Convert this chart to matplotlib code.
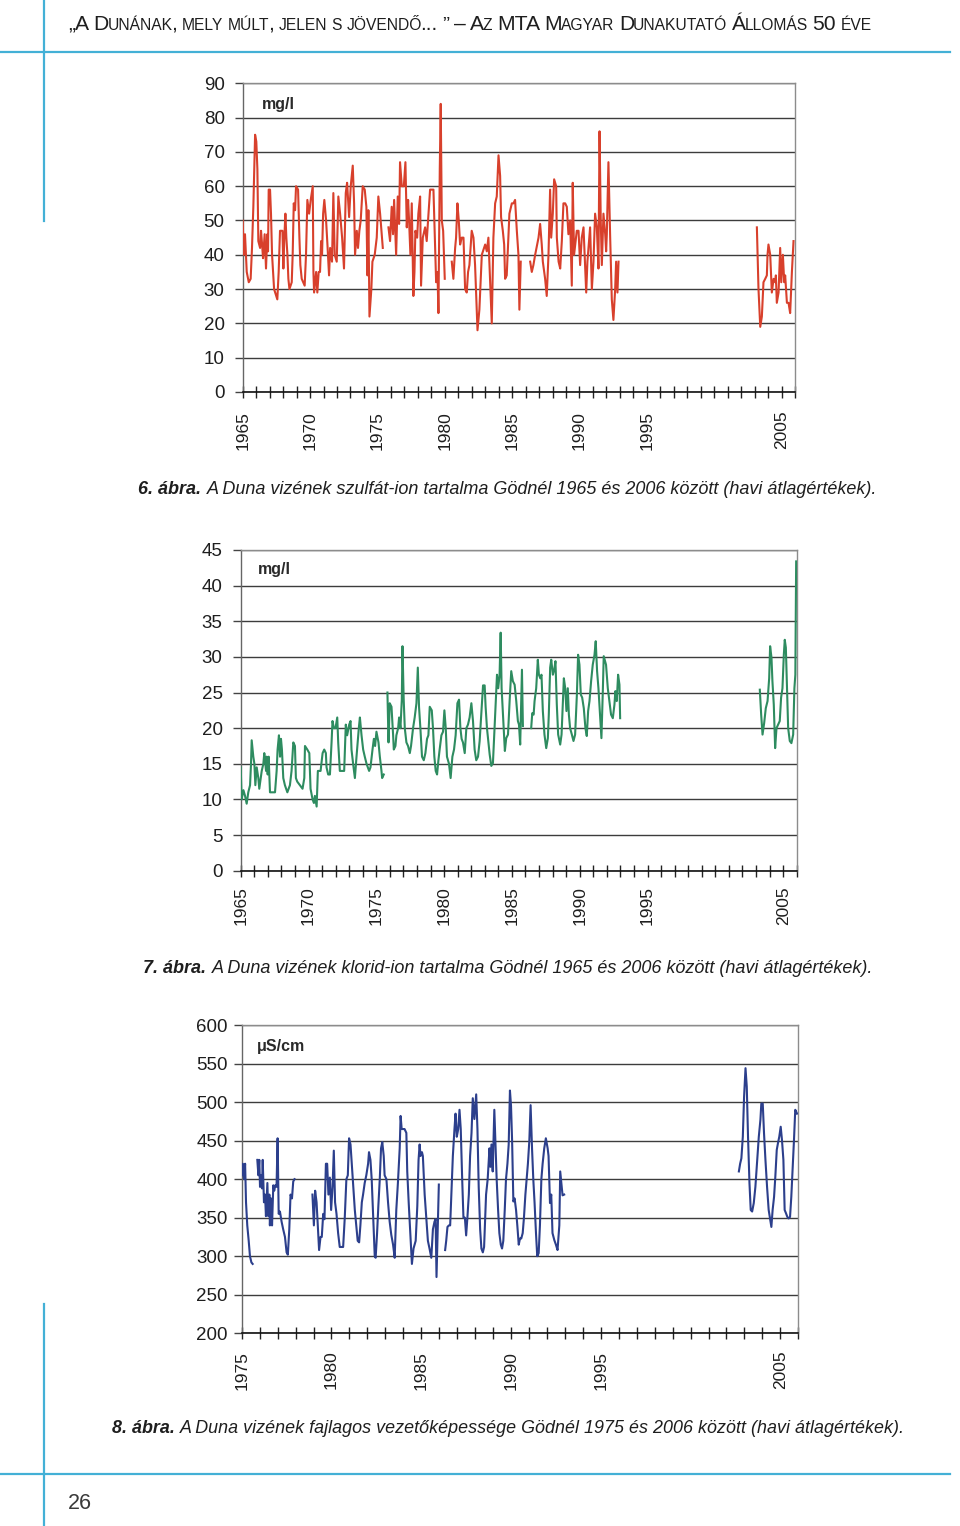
import matplotlib
matplotlib.use("Agg")
import matplotlib.pyplot as plt
import numpy as np
from matplotlib.lines import Line2D

W, H, DPI = 960, 1526, 100
nan = np.nan

# 6. abra - sulfate, mg/l (monthly means, NaN = missing period)
SULFATE_YEAR = [
    1965.00, 1965.07, 1965.17, 1965.30, 1965.45, 1965.59, 1965.69, 1965.79, 1965.92, 1966.01,
    1966.09, 1966.16, 1966.29, 1966.36, 1966.44, 1966.51, 1966.63, 1966.73, 1966.83, 1966.88,
    1966.93, 1967.03, 1967.10, 1967.18, 1967.33, 1967.57, 1967.67, 1967.77, 1967.95, 1968.02,
    1968.09, 1968.17, 1968.24, 1968.32, 1968.39, 1968.47, 1968.64, 1968.71, 1968.79, 1968.89,
    1968.96, 1969.11, 1969.21, 1969.28, 1969.38, 1969.60, 1969.70, 1969.80, 1969.93, 1970.05,
    1970.20, 1970.25, 1970.30, 1970.45, 1970.54, 1970.64, 1970.74, 1970.82, 1970.89, 1970.97,
    1971.06, 1971.19, 1971.29, 1971.41, 1971.49, 1971.63, 1971.73, 1971.83, 1971.98, 1972.10,
    1972.23, 1972.38, 1972.52, 1972.65, 1972.75, 1972.90, 1973.02, 1973.17, 1973.27, 1973.34,
    1973.47, 1973.56, 1973.66, 1973.76, 1973.91, 1974.06, 1974.18, 1974.26, 1974.33, 1974.41,
    1974.55, 1974.63, 1974.80, 1974.95, 1975.07, 1975.20, 1975.40,
    1975.60,
    1975.82, 1975.94, 1976.06, 1976.16, 1976.24, 1976.39, 1976.51, 1976.61, 1976.68, 1976.81,
    1976.96, 1977.08, 1977.18, 1977.28, 1977.35, 1977.45, 1977.55, 1977.67, 1977.75, 1977.82,
    1977.95, 1978.04, 1978.17, 1978.24, 1978.37, 1978.54, 1978.66, 1978.79, 1978.91, 1979.16,
    1979.26, 1979.36, 1979.46, 1979.53, 1979.63, 1979.70, 1979.78, 1979.88, 1980.00,
    1980.25,
    1980.52, 1980.64, 1980.77, 1980.84, 1980.94, 1981.04, 1981.14, 1981.26, 1981.39, 1981.51,
    1981.63, 1981.73, 1981.83, 1982.00, 1982.13, 1982.25, 1982.43, 1982.57, 1982.75, 1983.00,
    1983.12, 1983.24, 1983.37, 1983.49, 1983.61, 1983.74, 1983.86, 1983.99, 1984.11, 1984.18,
    1984.31, 1984.41, 1984.48, 1984.60, 1984.80, 1984.98, 1985.10, 1985.22, 1985.35, 1985.47,
    1985.54, 1985.64,
    1986.00,
    1986.34, 1986.46, 1986.58, 1986.71, 1986.96, 1987.08, 1987.20, 1987.28, 1987.45, 1987.57,
    1987.70, 1987.82, 1987.90, 1988.02, 1988.12, 1988.27, 1988.32, 1988.45, 1988.57, 1988.69,
    1988.81, 1988.94, 1989.06, 1989.18, 1989.31, 1989.43, 1989.50, 1989.60, 1989.80, 1989.93,
    1990.05, 1990.17, 1990.30, 1990.50, 1990.59, 1990.79, 1990.92, 1991.04, 1991.16, 1991.29,
    1991.41, 1991.49, 1991.58, 1991.66, 1991.78, 1991.91, 1991.98, 1992.03, 1992.15, 1992.28,
    1992.40, 1992.52, 1992.65, 1992.72, 1992.82, 1992.90,
    1998.00,
    2003.17, 2003.29, 2003.42, 2003.54, 2003.66, 2003.79, 2003.91, 2003.96, 2004.03, 2004.16,
    2004.28, 2004.41, 2004.53, 2004.58, 2004.65, 2004.78, 2004.90, 2004.98, 2005.10, 2005.20,
    2005.27, 2005.40, 2005.52, 2005.64, 2005.77, 2005.89,
]
SULFATE_MGL = [
    50, 40, 46, 35, 32, 33, 42, 54, 75, 73, 65, 44, 42, 47, 43, 39, 46, 36, 46, 41,
    59, 59, 52, 40, 30, 27, 35, 47, 47, 36, 45, 52, 45, 40, 33, 30, 32, 40, 55, 53,
    60, 59, 45, 37, 33, 31, 40, 56, 52, 56, 60, 35, 29, 35, 29, 35, 35, 44, 40, 52,
    56, 50, 43, 34, 42, 38, 58, 40, 38, 57, 52, 45, 36, 58, 61, 51, 60, 66, 55, 40,
    47, 42, 47, 50, 60, 59, 54, 34, 53, 22, 30, 38, 40, 45, 57, 52, 42,
    nan,
    48, 44, 54, 46, 56, 40, 57, 49, 67, 60, 60, 67, 48, 56, 50, 40, 55, 28, 35, 47,
    45, 52, 57, 31, 45, 48, 44, 52, 59, 59, 45, 32, 35, 23, 65, 84, 50, 47, 33,
    nan,
    38, 33, 42, 45, 55, 50, 43, 45, 45, 30, 29, 35, 37, 47, 45, 37, 18, 24, 40, 43,
    41, 45, 32, 20, 45, 55, 57, 69, 63, 51, 47, 43, 33, 34, 52, 55, 55, 56, 47, 40,
    24, 38,
    nan,
    38, 35, 37, 40, 45, 49, 43, 38, 33, 28, 40, 59, 45, 52, 62, 60, 45, 38, 36, 44,
    55, 55, 54, 46, 50, 31, 61, 40, 47, 47, 37, 45, 48, 29, 38, 48, 30, 38, 52, 48,
    36, 76, 50, 37, 52, 46, 41, 46, 67, 45, 27, 21, 30, 38, 29, 38,
    nan,
    48, 30, 19, 22, 32, 33, 34, 40, 43, 40, 29, 33, 32, 34, 26, 29, 42, 32, 40, 32,
    34, 26, 26, 23, 35, 44,
]

# 7. abra - chloride, mg/l
CHLORIDE_YEAR = [
    1965.00, 1965.07, 1965.20, 1965.32, 1965.44, 1965.56, 1965.69, 1965.76, 1965.81, 1965.93,
    1966.01, 1966.08, 1966.18, 1966.30, 1966.37,
    1966.55, 1966.67, 1966.74, 1966.87, 1966.91, 1966.99, 1967.06, 1967.16, 1967.28, 1967.53,
    1967.65, 1967.72, 1967.82, 1967.90, 1967.97, 1968.04, 1968.14, 1968.26, 1968.44, 1968.63,
    1968.75, 1968.88, 1969.00, 1969.07, 1969.17, 1969.37, 1969.56, 1969.69, 1969.74, 1969.91,
    1970.06, 1970.15, 1970.30, 1970.40, 1970.47, 1970.60, 1970.69, 1970.89, 1971.04, 1971.16,
    1971.28, 1971.33, 1971.45, 1971.58, 1971.70, 1971.77, 1971.87, 1971.99, 1972.12, 1972.19,
    1972.31, 1972.51, 1972.63, 1972.75, 1972.85, 1973.00, 1973.10, 1973.17, 1973.29, 1973.42,
    1973.54, 1973.71, 1973.79, 1973.91, 1974.03, 1974.15, 1974.28, 1974.47, 1974.57, 1974.72,
    1974.82, 1974.91, 1975.01, 1975.16, 1975.26, 1975.38, 1975.43, 1975.55,
    1975.68,
    1975.82, 1975.90, 1975.99, 1976.12, 1976.24, 1976.29, 1976.41, 1976.48, 1976.61, 1976.68,
    1976.78, 1976.88, 1976.93, 1977.02, 1977.10, 1977.22, 1977.34, 1977.47, 1977.56, 1977.71,
    1977.83, 1977.96, 1978.06, 1978.15, 1978.25, 1978.37, 1978.50, 1978.62, 1978.74, 1978.84,
    1978.94, 1979.09, 1979.18, 1979.28, 1979.38, 1979.48, 1979.58, 1979.67, 1979.80, 1979.92,
    1980.02, 1980.12, 1980.21, 1980.36, 1980.48, 1980.61, 1980.73, 1980.85, 1980.98, 1981.10,
    1981.20, 1981.29, 1981.39, 1981.52, 1981.64, 1981.76, 1981.88, 1982.01, 1982.13, 1982.25,
    1982.37, 1982.50, 1982.62,
    1982.74, 1982.87, 1982.99, 1983.06, 1983.16, 1983.28, 1983.36, 1983.48, 1983.60, 1983.72,
    1983.80, 1983.90, 1983.99, 1984.09, 1984.17, 1984.24, 1984.34, 1984.41, 1984.48, 1984.58,
    1984.71, 1984.83, 1984.95, 1985.07, 1985.20, 1985.32, 1985.44, 1985.52, 1985.61, 1985.74,
    1985.81,
    1986.10,
    1986.42, 1986.50, 1986.60, 1986.67, 1986.79, 1986.91, 1986.99, 1987.09, 1987.18, 1987.28,
    1987.40, 1987.53, 1987.65, 1987.72, 1987.82, 1987.90, 1988.02, 1988.12, 1988.21, 1988.31,
    1988.41, 1988.56, 1988.66, 1988.75, 1988.83, 1988.93, 1989.02, 1989.12, 1989.20, 1989.29,
    1989.42, 1989.54, 1989.66, 1989.79, 1989.88, 1989.98, 1990.08, 1990.18, 1990.30, 1990.42,
    1990.52, 1990.62, 1990.72, 1990.84, 1990.96, 1991.09, 1991.18, 1991.28, 1991.38, 1991.50,
    1991.60, 1991.70, 1991.77, 1991.87, 1991.94, 1992.07, 1992.19, 1992.31, 1992.44, 1992.56,
    1992.63, 1992.73, 1992.83, 1992.93, 1992.98,
    1998.00,
    2003.28, 2003.38, 2003.48, 2003.60, 2003.72, 2003.85, 2003.97, 2004.04, 2004.14, 2004.21,
    2004.31, 2004.41, 2004.51, 2004.63, 2004.75, 2004.85, 2004.95, 2005.05, 2005.12, 2005.20,
    2005.27, 2005.37, 2005.49, 2005.61, 2005.74, 2005.83, 2005.90, 2005.96,
]
CHLORIDE_MGL = [
    14.5, 10, 11.3, 10.5, 9.4, 11, 12, 15, 18.3, 16, 15, 12, 14.5, 13, 11.5,
    14, 15, 16.5, 14, 16, 13.5, 16, 11, 11, 11, 14, 17, 19, 16, 18.5, 17, 13, 12, 11, 12,
    14, 18, 17.5, 13, 12.5, 12, 11.5, 13, 17.5, 17, 16.5, 11.5, 10, 9.5, 10.5, 9, 14, 14, 16.5, 17,
    16.5, 14.5, 13.5, 13.5, 18, 21, 20, 20, 21.5, 18, 14, 14, 14, 20.5, 19, 20.5, 21, 17, 15, 13,
    16, 20, 21.5, 19, 17, 16, 15, 14, 14.5, 17, 18.5, 17.5, 19.5, 18, 16, 14, 13, 13.5,
    nan,
    25, 18, 23.5, 23, 19, 17, 17.5, 19, 20, 21.5, 20, 24, 31.5, 24, 20, 18, 17.5, 16.5, 17.5, 20,
    21.5, 23.5, 28.5, 23, 20, 16, 15.5, 16.5, 18.5, 19, 23, 22.5, 20, 16, 14, 13.5, 15.5, 17, 19, 19.5,
    22.5, 20, 16, 15, 13, 16, 17, 19, 23.5, 24, 20, 18.5, 18, 16.5, 20, 20.5, 21.5, 23.5, 21, 17,
    15.5, 16, 18.2,
    22, 26, 26, 23, 20, 17.7, 16.3, 14.7, 15.1, 20, 23.3, 27.5, 25.6, 27.5, 33.4, 25.6, 21.9, 19.1, 16.8, 18.6,
    19.1, 23.8, 28, 26.6, 26.1, 23.8, 21, 20.5, 17.7, 28.2, 20.3,
    nan,
    20, 22.1, 21.9, 23.8, 25.6, 29.6, 27.5, 27, 27.5, 22.4, 19.1, 17.2, 18.6, 21.9, 28.5, 29.6, 27.5, 28.2, 29.4, 23.3,
    19.1, 17.7, 19.1, 23.3, 27, 25.6, 22.4, 25.6, 21.9, 20, 19.1, 18.2, 19.1, 24.7, 30.3, 28.9, 24.7, 24.3, 22.8, 20,
    18.9, 22.4, 23.8, 26.6, 28.9, 30.3, 32.2, 28, 25.6, 21.9, 18.6, 25, 30.1, 29.4, 28.9, 25.6, 23.8, 21.9, 21.4, 23.3,
    25.2, 23.8, 27.5, 26.1, 21.4,
    nan,
    25.4, 21.9, 19.1, 20.7, 22.8, 23.8, 27, 31.5, 29.9, 26.6, 23.3, 17.2, 20, 20.5, 21, 24.3, 25.6, 30.3, 32.4, 31.3,
    26.6, 20, 18.2, 17.9, 19.1, 25.6, 27.5, 43.4,
]

# 8. abra - specific conductivity, uS/cm
COND_YEAR = [
    1975.00, 1975.06, 1975.13, 1975.19, 1975.24, 1975.31, 1975.39, 1975.46, 1975.54, 1975.61,
    1975.74,
    1975.87, 1975.93, 1975.98, 1976.02, 1976.07, 1976.13, 1976.17, 1976.24, 1976.30, 1976.35,
    1976.43, 1976.48, 1976.54, 1976.57, 1976.63, 1976.69, 1976.76, 1976.81, 1976.87, 1976.94,
    1977.00, 1977.06, 1977.13, 1977.22, 1977.31, 1977.41, 1977.50, 1977.57, 1977.65, 1977.72,
    1977.80, 1977.87, 1977.94,
    1978.40,
    1978.94, 1979.02, 1979.09, 1979.17, 1979.24, 1979.31, 1979.39, 1979.46, 1979.54, 1979.61,
    1979.69, 1979.76, 1979.83, 1979.91, 1979.98, 1980.06, 1980.13, 1980.20, 1980.28, 1980.37,
    1980.46, 1980.56, 1980.65, 1980.74, 1980.83, 1980.91, 1980.98, 1981.06, 1981.13, 1981.20,
    1981.30, 1981.39, 1981.46, 1981.54, 1981.61, 1981.69, 1981.76, 1981.85, 1981.94, 1982.04,
    1982.09, 1982.17, 1982.24, 1982.31, 1982.41, 1982.46, 1982.54, 1982.61, 1982.69, 1982.76,
    1982.83, 1982.91, 1982.96, 1983.06, 1983.15, 1983.24, 1983.33, 1983.43, 1983.52, 1983.61,
    1983.70, 1983.80, 1983.85, 1983.91, 1983.98, 1984.07, 1984.17, 1984.22, 1984.30, 1984.39,
    1984.48, 1984.57, 1984.69, 1984.78, 1984.85, 1984.91, 1984.96, 1985.04, 1985.09, 1985.19,
    1985.28, 1985.37, 1985.46, 1985.56, 1985.65, 1985.74, 1985.80, 1985.85, 1985.91, 1985.98,
    1986.15,
    1986.33, 1986.39, 1986.46, 1986.54, 1986.61, 1986.69, 1986.76, 1986.85, 1986.91, 1986.98,
    1987.06, 1987.13, 1987.20, 1987.28, 1987.35, 1987.43, 1987.50, 1987.57, 1987.65, 1987.72,
    1987.80, 1987.87, 1987.96, 1988.06, 1988.13, 1988.20,
    1988.28, 1988.35, 1988.43, 1988.50, 1988.61, 1988.70, 1988.80, 1988.85, 1988.91, 1988.98,
    1989.07, 1989.13, 1989.20, 1989.28, 1989.35, 1989.43, 1989.50, 1989.57, 1989.65, 1989.72,
    1989.80, 1989.87, 1989.94, 1990.00, 1990.06, 1990.13, 1990.20, 1990.28, 1990.35, 1990.43,
    1990.50, 1990.57, 1990.65, 1990.72, 1990.80, 1990.87, 1990.94, 1991.02, 1991.09, 1991.17,
    1991.24, 1991.31, 1991.39, 1991.46, 1991.54, 1991.61, 1991.69, 1991.76, 1991.85, 1991.94,
    1992.04, 1992.09, 1992.17, 1992.24, 1992.31, 1992.41, 1992.50, 1992.59, 1992.69, 1992.74,
    1992.80, 1992.87, 1992.96,
    1998.00,
    2002.69, 2002.76, 2002.83, 2002.91, 2002.98, 2003.06, 2003.13, 2003.20, 2003.28, 2003.35,
    2003.43, 2003.52, 2003.61, 2003.70, 2003.80, 2003.89, 2003.94, 2004.02, 2004.09, 2004.17,
    2004.26, 2004.35, 2004.44, 2004.50, 2004.57, 2004.65, 2004.72, 2004.80, 2004.87, 2004.94,
    2005.02, 2005.09, 2005.17, 2005.24, 2005.31, 2005.39, 2005.46, 2005.54, 2005.61, 2005.69,
    2005.76, 2005.83, 2005.93,
]
COND_USCM = [
    405, 420, 400, 420, 370, 340, 320, 300, 292, 290,
    nan,
    425, 405, 425, 390, 405, 388, 425, 370, 380, 352, 395, 352, 380, 340, 375, 340, 392, 385, 392, 390,
    453, 355, 358, 345, 335, 325, 305, 302, 335, 380, 375, 397, 400,
    nan,
    380, 340, 385, 370, 340, 308, 325, 325, 355, 348, 420, 420, 380, 402, 360, 390, 437, 370, 355, 330,
    312, 312, 312, 350, 400, 405, 453, 445, 420, 395, 360, 338, 320, 318, 340, 370, 380, 395, 405, 420,
    435, 425, 400, 360, 300, 298, 330, 365, 400, 440, 448, 430, 405, 400, 370, 345, 328, 315, 298, 360,
    395, 440, 482, 465, 465, 465, 460, 410, 370, 330, 290, 310, 320, 365, 425, 445, 430, 435, 430, 380,
    350, 320, 310, 298, 335, 345, 348, 273, 330, 393,
    nan,
    308, 320, 338, 340, 340, 390, 430, 465, 485, 455, 465, 490, 465, 400, 350, 350, 327, 350, 380, 430,
    460, 505, 478, 510, 465, 390,
    335, 310, 305, 312, 380, 400, 440, 416, 445, 410, 490, 450, 400, 360, 330, 315, 310, 320, 360, 400,
    420, 445, 515, 495, 450, 371, 375, 360, 340, 315, 323, 323, 330, 350, 380, 400, 420, 450, 496, 440,
    400, 370, 330, 300, 304, 340, 400, 420, 440, 453, 440, 430, 369, 380, 330, 321, 315, 308, 340, 410,
    395, 379, 380,
    nan,
    410, 420, 427, 455, 507, 544, 520, 455, 395, 360, 358, 369, 390, 420, 455, 477, 498, 498, 460, 425,
    390, 360, 347, 338, 360, 377, 403, 438, 447, 455, 468, 451, 425, 360, 356, 351, 349, 351, 377, 416,
    451, 490, 485,
]

SULFATE_TICKS = [0, 10, 20, 30, 40, 50, 60, 70, 80, 90]
CHLORIDE_TICKS = [0, 5, 10, 15, 20, 25, 30, 35, 40, 45]
COND_TICKS = [200, 250, 300, 350, 400, 450, 500, 550, 600]
LABELLED_1965 = [1965, 1970, 1975, 1980, 1985, 1990, 1995, 2005]
LABELLED_1975 = [1975, 1980, 1985, 1990, 1995, 2005]

HEADER = "„A Dunának, mely múlt, jelen s jövendő... ” – Az MTA Magyar Dunakutató Állomás 50 éve"
CAPTIONS = [
    ("6. ábra.", "A Duna vizének szulfát-ion tartalma Gödnél 1965 és 2006 között (havi átlagértékek)."),
    ("7. ábra.", "A Duna vizének klorid-ion tartalma Gödnél 1965 és 2006 között (havi átlagértékek)."),
    ("8. ábra.", "A Duna vizének fajlagos vezetőképessége Gödnél 1975 és 2006 között (havi átlagértékek)."),
]
PAGE_NUMBER = "26"

RULE = "#43b0d6"
INK = "#1e1e1e"
TICK_FONT = ["Liberation Sans", "DejaVu Sans"]
TEXT_FONT = ["Liberation Sans Narrow", "Liberation Sans", "DejaVu Sans"]

fig = plt.figure(figsize=(W / DPI, H / DPI), dpi=DPI)
fig.patch.set_facecolor("white")
renderer = fig.canvas.get_renderer()


def fx(x):
    return x / W


def fy(y):
    return 1 - y / H


def rule(x0, y0, x1, y1):
    fig.add_artist(Line2D([fx(x0), fx(x1)], [fy(y0), fy(y1)], color=RULE, lw=1.6,
                          transform=fig.transFigure))


def draw_runs(runs, x_left, baseline, width, join=0.6, passes=3):
    # lay out text pieces left to right, then rescale so the line spans `width` px
    scale = 1.0
    for attempt in range(passes):
        x = x_left
        made = []
        for text, size, props in runs:
            if text == " ":
                x += 0.27 * size * scale * DPI / 72
                continue
            t = fig.text(fx(x), fy(baseline), text, fontsize=size * scale, ha="left",
                         va="baseline", color=INK, **props)
            made.append(t)
            x += t.get_window_extent(renderer).width + join
        used = x - x_left
        if abs(used - width) < 2 or attempt == passes - 1:
            break
        for t in made:
            t.remove()
        scale *= width / used


def small_caps(text, big, small, props):
    runs = []
    for i, word in enumerate(text.split(" ")):
        if i:
            runs.append((" ", big, props))
        piece, lower = "", None
        for ch in word:
            is_lower = ch.islower()
            if lower is not None and is_lower != lower:
                runs.append((piece, small if lower else big, props))
                piece = ""
            piece += ch.upper()
            lower = is_lower
        if piece:
            runs.append((piece, small if lower else big, props))
    return runs


def chart(box, years, values, color, xlim, yticks, labelled, unit, unit_xy, xpad, ypad):
    left, top, right, bottom = box
    ax = fig.add_axes([fx(left), fy(bottom), (right - left) / W, (bottom - top) / H])
    ax.plot(years, values, color=color, lw=1.5, zorder=3)
    ax.set_xlim(*xlim)
    ax.set_ylim(yticks[0], yticks[-1])

    ax.set_axisbelow(True)
    ax.yaxis.grid(True, color="#3c3c3c", lw=1.0)
    ax.set_yticks(yticks, [str(v) for v in yticks])

    all_years = list(range(xlim[0], xlim[1] + 1))
    ax.set_xticks(all_years, [str(y) if y in labelled else "" for y in all_years], rotation=90)

    for lab in ax.get_xticklabels():
        lab.set_family(TICK_FONT)
        lab.set_fontsize(12.5)
        lab.set_color(INK)
    for lab in ax.get_yticklabels():
        lab.set_family(TICK_FONT)
        lab.set_fontsize(13.5)
        lab.set_color(INK)

    ax.tick_params(axis="x", direction="inout", length=9, width=1.0, color="#222", pad=xpad)
    ax.tick_params(axis="y", direction="out", length=6, width=1.0, color="#444", pad=ypad)

    for side in ("top", "right"):
        ax.spines[side].set_color("#8c8c8c")
        ax.spines[side].set_linewidth(1.0)
    ax.spines["left"].set_color("#666")
    ax.spines["left"].set_linewidth(1.0)
    ax.spines["bottom"].set_color("#111")
    ax.spines["bottom"].set_linewidth(1.2)

    ax.text(unit_xy[0], unit_xy[1], unit, transform=ax.transAxes, fontsize=11.5,
            fontweight="bold", family=TICK_FONT, color="#2a2a2a", ha="left", va="center")
    return ax


chart((242.7, 83.3, 795.0, 392.0), SULFATE_YEAR, SULFATE_MGL, "#d8402c",
      (1965, 2006), SULFATE_TICKS, LABELLED_1965, "mg/l", (0.035, 0.93), 9, 7)
chart((240.7, 550.0, 796.7, 870.7), CHLORIDE_YEAR, CHLORIDE_MGL, "#2e8c60",
      (1965, 2006), CHLORIDE_TICKS, LABELLED_1965, "mg/l", (0.031, 0.94), 6.5, 7)
chart((241.7, 1025.0, 798.3, 1333.3), COND_YEAR, COND_USCM, "#2c3f8c",
      (1975, 2006), COND_TICKS, LABELLED_1975, "μS/cm", (0.027, 0.929), 8, 4)

# page furniture
rule(0, 52, 950, 52)
rule(44, 0, 44, 221)
rule(0, 1474, 950, 1474)
rule(44, 1304, 44, 1526)

plain = {"family": TEXT_FONT}
draw_runs(small_caps(HEADER, 15.5, 11.5, plain), 68, 30, 800, join=-1.2)

caption_spots = [(138, 494, 738), (143, 973, 729), (112, 1433, 790)]
for (lead, rest), (x0, base, width) in zip(CAPTIONS, caption_spots):
    draw_runs([
        (lead, 13, {"family": TEXT_FONT, "weight": "bold", "style": "italic"}),
        (" ", 13, {}),
        (rest, 13, {"family": TEXT_FONT, "style": "italic"}),
    ], x0, base, width)

fig.text(fx(68), fy(1509), PAGE_NUMBER, fontsize=15.5, family=TEXT_FONT, color="#3a3a3a",
         ha="left", va="baseline")

fig.savefig("out.png", dpi=DPI, facecolor="white")
